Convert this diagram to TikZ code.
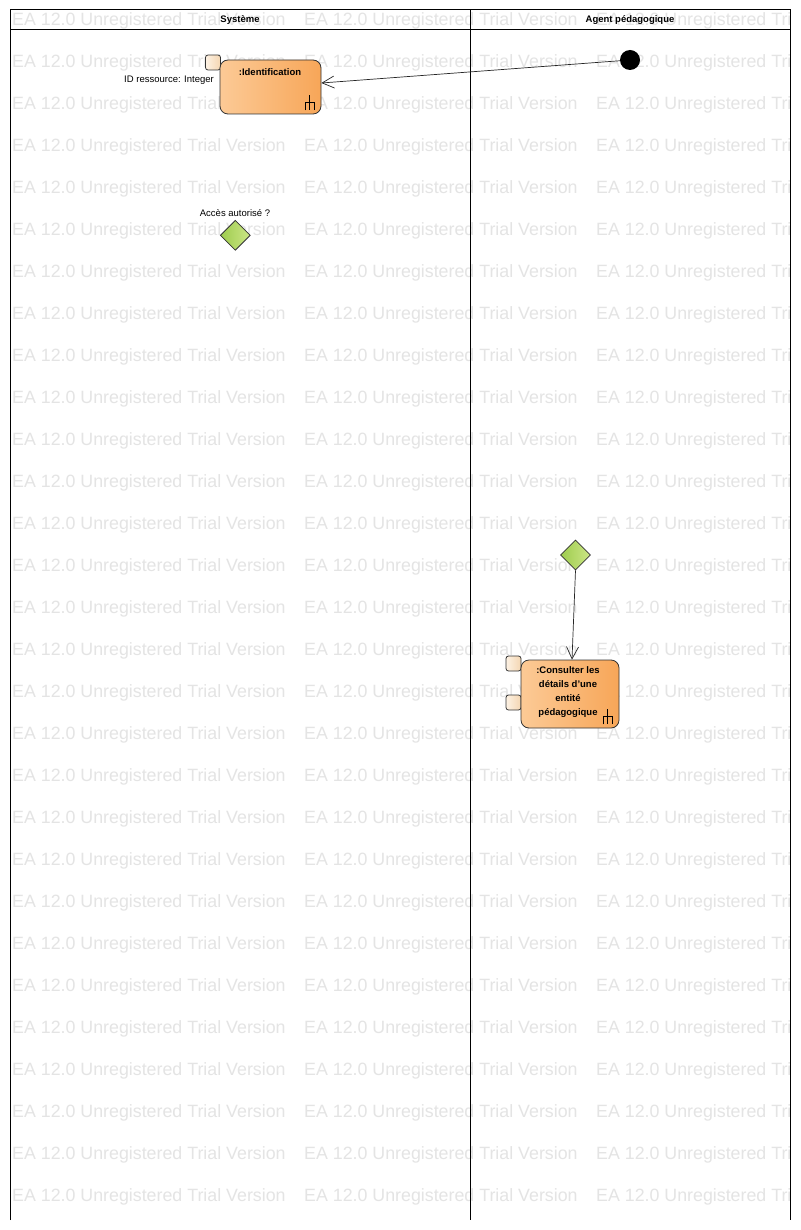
\documentclass[tikz,border=0pt]{standalone}
\usepackage{fontspec}
\setmainfont{Liberation Sans}
\usetikzlibrary{arrows.meta,shapes.geometric}
\definecolor{wmgray}{RGB}{228,228,228}
\definecolor{actL}{RGB}{252,202,150}
\definecolor{actR}{RGB}{247,166,88}
\definecolor{pinL}{RGB}{253,242,228}
\definecolor{pinR}{RGB}{244,214,178}
\definecolor{decL}{RGB}{158,204,78}
\definecolor{decR}{RGB}{204,230,134}
\newcommand\rakesym[1]{%
  \draw[line width=0.8pt] ([shift={(-12,-19)}]#1.south east) -- ([shift={(-12,-4)}]#1.south east);
  \draw[line width=0.8pt] ([shift={(-16,-4)}]#1.south east) -- ([shift={(-16,-12)}]#1.south east) -- ([shift={(-7,-12)}]#1.south east) -- ([shift={(-7,-4)}]#1.south east);}
\begin{document}
\begin{tikzpicture}[x=1pt,y=-1pt,
  base/.style={font=\fontsize{9.5}{13.5}\selectfont},
  wm/.style={text=wmgray, font=\fontsize{17.8}{20}\selectfont, anchor=west, inner sep=0pt},
  act/.style={draw=black!80, line width=0.8pt, rounded corners=8pt, left color=actL, right color=actR, inner sep=0pt},
  pinbox/.style={draw=black!80, line width=0.8pt, rounded corners=2.5pt, left color=pinL, right color=pinR, minimum width=15pt, minimum height=15pt, inner sep=0pt},
  dec/.style={diamond, draw=black!80, line width=0.8pt, left color=decL, right color=decR, minimum width=30pt, minimum height=30pt, inner sep=0pt},
  flow/.style={draw=black!85, line width=0.7pt, -{Straight Barb[length=12pt,width=12pt]}},
  lbl/.style={base, inner sep=0pt},
  ttl/.style={font=\bfseries\fontsize{9.5}{13.5}\selectfont, inner sep=0pt, align=center},
  frame/.style={draw=black, line width=1pt}]
\useasboundingbox (0,0) rectangle (800,1230);
\fill[white] (0,0) rectangle (800,1230);
% watermark
\begin{scope}
\clip (0,0) rectangle (790,1230);
\foreach \r in {0,...,28}{
  \foreach \c in {0,1,2}{
    \node[wm] (wm-\r-\c) at ({12+292*\c},{21+42*\r}) {EA 12.0 Unregistered Trial Version};
  }
}
\end{scope}
% swimlanes
\draw[frame] (10,1220) -- (10,10) -- (790,10) -- (790,1220);
\draw[frame] (10,30) -- (790,30);
\draw[frame] (470,10) -- (470,1220);
\node[ttl] (laneA) at (240,20) {Système};
\node[ttl] (laneB) at (630,20) {Agent pédagogique};
% identification
\node[pinbox] (pinId) at (213,62.5) {};
\node[act, minimum width=101pt, minimum height=54pt] (ident) at (270.5,87) {};
\node[ttl] (identT) at (270,72) {:Identification};
\rakesym{ident}
\node[lbl, anchor=east] (pinIdL) at (214,80.5) {ID ressource: Integer};
% initial node
\node[circle, fill=black, minimum size=20pt, inner sep=0pt] (init) at (630,60) {};
% decision 1
\node[dec] (dec1) at (235.3,235.3) {};
\node[lbl] (dec1L) at (235,213) {Accès autorisé ?};
% decision 2
\node[dec] (dec2) at (575.5,555) {};
% consulter
\node[pinbox] (pinC1) at (513.5,663.5) {};
\node[pinbox] (pinC2) at (513.5,702.5) {};
\node[act, minimum width=98pt, minimum height=68pt] (cons) at (570,694) {};
\node[ttl, font=\bfseries\fontsize{9.5}{13.8}\selectfont] (consT) at (568,692) {:Consulter les\\détails d\symbol{39}une\\entité\\pédagogique};
\rakesym{cons}
% flows
\draw[flow] (init) -- ([yshift=4pt]ident.east);
\draw[flow] (dec2.south) -- ([xshift=2pt]cons.north);
\end{tikzpicture}
\end{document}
